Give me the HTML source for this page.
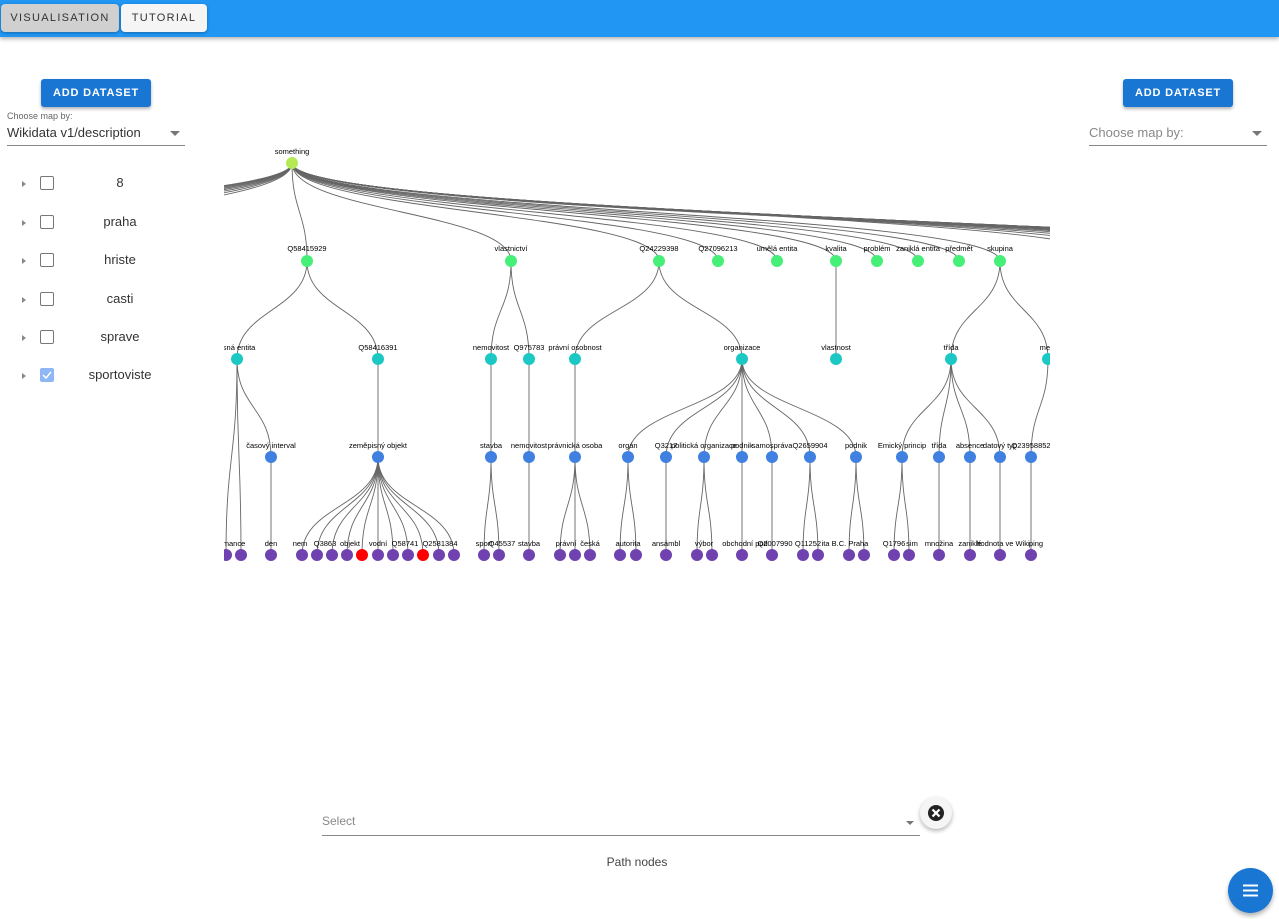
<!DOCTYPE html>
<html><head><meta charset="utf-8"><style>
body{margin:0;width:1279px;height:919px;position:relative;background:#fff;font-family:"Liberation Sans",sans-serif;overflow:hidden}
.bar{position:absolute;left:0;top:0;width:1279px;height:37px;background:#2196f3;box-shadow:0 2px 4px rgba(0,0,0,.3)}
.tb{position:absolute;top:4px;height:28px;border-radius:4px;font-size:11px;letter-spacing:1.3px;color:#333;line-height:28px;text-align:center;box-shadow:0 1px 3px rgba(0,0,0,.3)}
.btn{position:absolute;top:79px;width:110px;height:28px;background:#1976d2;color:#fff;font-weight:bold;font-size:11px;letter-spacing:.8px;line-height:28px;text-align:center;border-radius:3px;box-shadow:0 2px 3px rgba(0,0,0,.3)}
.row{position:absolute;left:0;width:200px;height:20px}
.row .ar{position:absolute;left:22px;top:6px;width:0;height:0;border-left:4px solid #888;border-top:3px solid transparent;border-bottom:3px solid transparent}
.row .cb{position:absolute;left:40px;top:1px;width:12px;height:12px;border:1.5px solid #777;border-radius:2px}
.row .lb{position:absolute;left:70px;width:100px;text-align:center;top:0;font-size:13px;color:#333}
.dd{position:absolute;width:0;height:0;border-top:5px solid #777;border-left:5px solid transparent;border-right:5px solid transparent}
</style></head><body>
<div class="bar"></div>
<div class="tb" style="left:1px;width:118px;background:#d0d0d0">VISUALISATION</div>
<div class="tb" style="left:121px;width:86px;background:#f5f5f5">TUTORIAL</div>
<div class="btn" style="left:41px">ADD DATASET</div>
<div class="btn" style="left:1123px">ADD DATASET</div>
<div style="position:absolute;left:7px;top:111px;font-size:9px;color:#666">Choose map by:</div>
<div style="position:absolute;left:7px;top:125px;font-size:13px;color:#333">Wikidata v1/description</div>
<div class="dd" style="left:170px;top:131px"></div>
<div style="position:absolute;left:7px;top:145px;width:178px;height:1px;background:#888"></div>
<div style="position:absolute;left:1089px;top:125px;font-size:13px;color:#888">Choose map by:</div>
<div class="dd" style="left:1252px;top:131px"></div>
<div style="position:absolute;left:1089px;top:145px;width:178px;height:1px;background:#888"></div>
<div class="row" style="top:175px"><div class="ar"></div><div class="cb"></div><div class="lb">8</div></div>
<div class="row" style="top:214px"><div class="ar"></div><div class="cb"></div><div class="lb">praha</div></div>
<div class="row" style="top:252px"><div class="ar"></div><div class="cb"></div><div class="lb">hriste</div></div>
<div class="row" style="top:291px"><div class="ar"></div><div class="cb"></div><div class="lb">casti</div></div>
<div class="row" style="top:329px"><div class="ar"></div><div class="cb"></div><div class="lb">sprave</div></div>
<div class="row" style="top:367px"><div class="ar"></div><div class="cb" style="background:#8fb6f5;border-color:#8fb6f5"><svg width="12" height="12" style="position:absolute;left:0;top:0"><path d="M2 6 L5 9 L10 3" stroke="#fff" stroke-width="1.5" fill="none"/></svg></div><div class="lb">sportoviste</div></div>

<svg id="g" style="position:absolute;left:224px;top:140px" width="826" height="440" viewBox="224 140 826 440" font-family="Liberation Sans, sans-serif" font-size="7.5" text-anchor="middle">
<g id="edges" fill="none" stroke="#666" stroke-width="0.9"></g>
<g id="nodes"></g>
<g fill="#000">
<text x="292" y="154">something</text>
<text x="307" y="251">Q58415929</text><text x="511" y="251">vlastnictví</text><text x="659" y="251">Q24229398</text><text x="718" y="251">Q27096213</text><text x="777" y="251">umělá entita</text><text x="836" y="251">kvalita</text><text x="877" y="251">problém</text><text x="918" y="251">zaniklá entita</text><text x="959" y="251">předmět</text><text x="1000" y="251">skupina</text>
<text x="237" y="350">asná entita</text><text x="378" y="350">Q58416391</text><text x="491" y="350">nemovitost</text><text x="529" y="350">Q975783</text><text x="575" y="350">právní osobnost</text><text x="742" y="350">organizace</text><text x="836" y="350">vlastnost</text><text x="951" y="350">třída</text><text x="1048" y="350">meta</text>
<text x="271" y="448">časový interval</text><text x="378" y="448">zeměpisný objekt</text><text x="491" y="448">stavba</text><text x="529" y="448">nemovitost</text><text x="575" y="448">právnická osoba</text><text x="628" y="448">orgán</text><text x="666" y="448">Q3217</text><text x="704" y="448">politická organizace</text><text x="742" y="448">podnik</text><text x="772" y="448">samospráva</text><text x="810" y="448">Q2659904</text><text x="856" y="448">podnik</text><text x="902" y="448">Emický princip</text><text x="939" y="448">třída</text><text x="970" y="448">absence</text><text x="1000" y="448">datový typ</text><text x="1031" y="448">Q23958852</text>
<text x="234" y="546">mance</text><text x="271" y="546">den</text><text x="300" y="546">nem</text><text x="325" y="546">Q3863</text><text x="350" y="546">objekt</text><text x="378" y="546">vodní</text><text x="405" y="546">Q58741</text><text x="440" y="546">Q2581384</text><text x="484" y="546">sport</text><text x="502" y="546">Q45537</text><text x="529" y="546">stavba</text><text x="566" y="546">právní</text><text x="590" y="546">česká</text><text x="628" y="546">autorita</text><text x="666" y="546">ansámbl</text><text x="704" y="546">výbor</text><text x="745" y="546">obchodní pod</text><text x="775" y="546">Q2007990</text><text x="808" y="546">Q11252</text><text x="845" y="546">ita B.C. Praha</text><text x="894" y="546">Q1796</text><text x="912" y="546">sim</text><text x="939" y="546">množina</text><text x="970" y="546">zaniklé</text><text x="1003" y="546">hodnota ve Wiki</text><text x="1036" y="546">ping</text>
</g>
</svg>
<script>
var E=document.getElementById('edges'),N=document.getElementById('nodes'),ns='http://www.w3.org/2000/svg';
function e(x1,y1,x2,y2){var m=(y1+y2)/2,p=document.createElementNS(ns,'path');p.setAttribute('d','M'+x1+','+y1+'C'+x1+','+m+' '+x2+','+m+' '+x2+','+y2);E.appendChild(p);}
function n(x,y,c){var k=document.createElementNS(ns,'circle');k.setAttribute('cx',x);k.setAttribute('cy',y);k.setAttribute('r',6);k.setAttribute('fill',c);N.appendChild(k);}
var L1=[307,511,659,718,777,836,877,918,959,1000];
L1.forEach(function(x){e(292,163,x,261)});
for(var i=0;i<22;i++)e(292,163,1120+i*45,261+i*2);
for(var i=0;i<8;i++)e(292,163,-60-i*60,261);
var l12={307:[237,378],511:[491,529],659:[575,742],836:[836],1000:[951,1048]};
var l23={237:[271],378:[378],491:[491],529:[529],575:[575],742:[628,666,704,742,772,810,856],951:[902,939,970,1000],1048:[1031]};
var l34={271:[271],378:[302,317,332,347,362,378,393,408,423,439,454],491:[484,499],529:[529],575:[560,575,590],628:[620,636],666:[666],704:[697,712],742:[742],772:[772],810:[803,818],856:[849,864],902:[894,909],939:[939],970:[970],1000:[1000],1031:[1031]};
var a;for(a in l12)l12[a].forEach(function(x){e(+a,261,x,359)});
for(a in l23)l23[a].forEach(function(x){e(+a,359,x,457)});
for(a in l34)l34[a].forEach(function(x){e(+a,457,x,555)});
e(237,359,226,555);e(237,359,241,555);
n(292,163,'#b3ea55');
L1.forEach(function(x){n(x,261,'#46ef78')});
[237,378,491,529,575,742,836,951,1048].forEach(function(x){n(x,359,'#1cc8c4')});
[271,378,491,529,575,628,666,704,742,772,810,856,902,939,970,1000,1031].forEach(function(x){n(x,457,'#3f80e0')});
[226,241,271,302,317,332,347,362,378,393,408,423,439,454,484,499,529,560,575,590,620,636,666,697,712,742,772,803,818,849,864,894,909,939,970,1000,1031].forEach(function(x){n(x,555,(x==362||x==423)?'#ff0000':'#6f42b0')});
</script>

<div style="position:absolute;left:322px;top:814px;font-size:12px;color:#888">Select</div>
<div class="dd" style="left:906px;top:821px;border-top-width:4px;border-left-width:4px;border-right-width:4px"></div>
<div style="position:absolute;left:322px;top:835px;width:598px;height:1px;background:#888"></div>
<div style="position:absolute;left:920px;top:797px;width:32px;height:32px;border-radius:50%;background:#f5f5f5;box-shadow:0 2px 4px rgba(0,0,0,.3)">
<svg width="32" height="32"><circle cx="16" cy="16" r="8" fill="#222"/><path d="M12.5 12.5L19.5 19.5M19.5 12.5L12.5 19.5" stroke="#fff" stroke-width="2.2"/></svg></div>
<div style="position:absolute;left:537px;width:200px;text-align:center;top:855px;font-size:12px;color:#444">Path nodes</div>
<div style="position:absolute;left:1228px;top:868px;width:45px;height:45px;border-radius:50%;background:#1976d2;box-shadow:0 3px 5px rgba(0,0,0,.3)">
<svg width="45" height="45"><path d="M15 17.5H30M15 22.5H30M15 27.5H30" stroke="#fff" stroke-width="2"/></svg></div>
</body></html>
